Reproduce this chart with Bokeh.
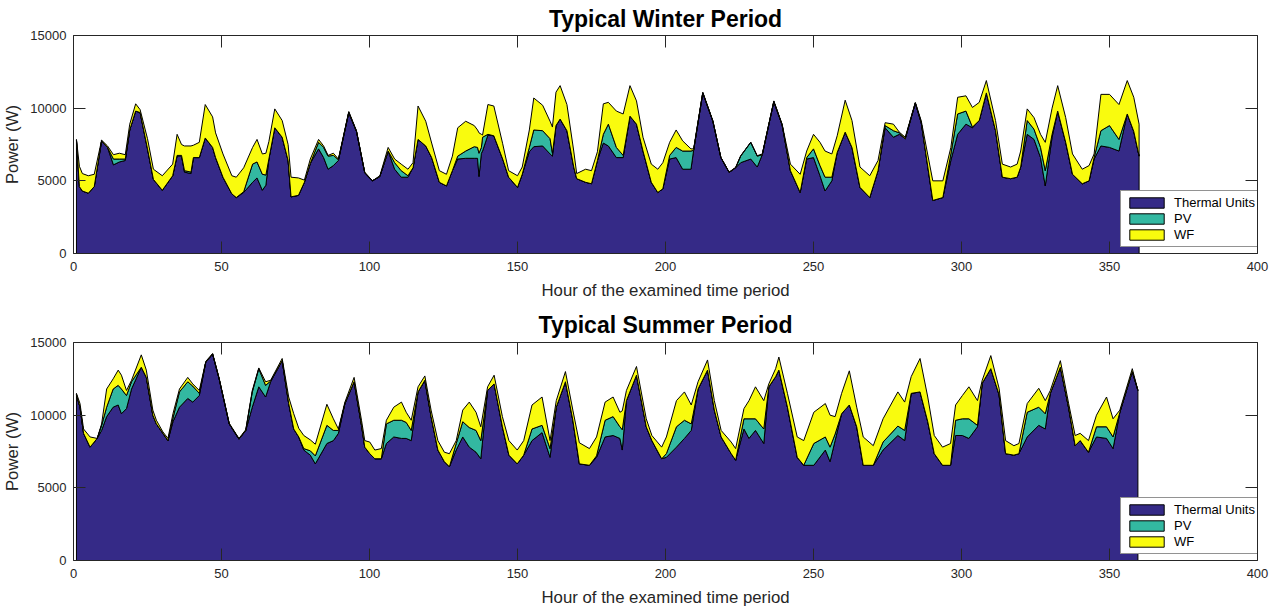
import numpy as np
from bokeh.plotting import figure
from bokeh.models import Range1d, FixedTicker, LinearAxis, Legend
from bokeh.layouts import column
from bokeh.embed import file_html
from bokeh.resources import INLINE

# ---------------- data ----------------
x_ticks = [0, 50, 100, 150, 200, 250, 300, 350, 400]
y_ticks = [0, 5000, 10000, 15000]
series_names = ["Thermal Units", "PV", "WF"]

w_hours = [1, 2, 3, 5, 7, 9.5, 11.5, 13.5, 15.5, 17.5, 19, 21, 22.5, 25, 27, 30, 33.5, 35, 36.5, 37.5,
           39.7, 40.5, 42.5, 44.5, 47, 48, 50.5, 53.5, 55, 57.5, 60.5, 62, 63.8, 65, 66, 68, 70.5, 72.5, 73.5, 76,
           78, 80, 82.8, 84.5, 86, 87.8, 89.5, 93, 95.6, 98.4, 101, 103.5, 106.3, 108.5, 110.7, 113, 114.7, 116.4, 119, 121,
           123.6, 126, 128, 129.8, 132.5, 135.4, 136.5, 137, 137.8, 138.2, 140, 142, 145, 147, 150, 151.6, 154, 155.5, 158.5, 161,
           161.8, 163, 164.4, 166.7, 169, 170, 173, 175, 177, 179, 180.7, 183.4, 185.7, 188, 190.2, 192.4, 195.2, 197.4, 199.1, 201.4,
           203.6, 205.8, 208.6, 209.5, 212.6, 216, 218.7, 221.5, 223.7, 225.4, 228.8, 231, 232.7, 236.6, 239.4, 242.2, 245.5, 247.7, 250, 252.2,
           253.9, 256.2, 258, 260.7, 263, 265.7, 269, 271.8, 274.2, 277, 279, 281, 284.4, 286.4, 290.3, 293.7, 296.4, 298.7, 301.5, 303.7,
           306, 308.4, 311.5, 313.8, 316.6, 318.8, 320, 322.2, 324.5, 326.7, 328.3, 330.6, 332.5, 335.2, 337.5, 340.8, 343.1, 344.8, 347.1, 350,
           353.2, 356, 358.2, 360]
w_thermal = [7800, 4600, 4300, 4150, 4600, 7750, 7300, 6100, 6300, 6400, 8500, 9800, 9700, 7200, 5100, 4350, 5350, 6700, 6700, 5600,
             5500, 6600, 6600, 7950, 7300, 6600, 5250, 4100, 3850, 4200, 4900, 5200, 4350, 4700, 6500, 8650, 8000, 6400, 3900, 4000,
             4900, 6200, 7200, 6600, 5800, 6050, 6400, 9700, 8400, 5550, 5000, 5300, 7050, 5800, 5250, 5250, 5900, 7850, 7400, 6600,
             4900, 4650, 5700, 6500, 6550, 6550, 6550, 5300, 6900, 7050, 8150, 8100, 6500, 5250, 4550, 5450, 7000, 7350, 7400, 6850,
             6700, 8800, 9250, 8450, 5950, 5150, 4900, 4800, 6400, 7600, 7400, 6600, 6600, 9450, 8900, 7050, 4900, 4200, 4450, 6500,
             6600, 5800, 5800, 7100, 11050, 9100, 6600, 5580, 5900, 6250, 6500, 5950, 6800, 10450, 8850, 5700, 4200, 6500, 6600, 5350,
             4300, 5000, 6950, 8350, 7300, 4550, 3850, 5700, 8650, 8000, 8200, 7900, 10350, 9000, 3650, 3850, 6400, 8200, 8900, 8650,
             9150, 11050, 8450, 5250, 5150, 5250, 5950, 8200, 7850, 6600, 4650, 8000, 9800, 7650, 5450, 4800, 5000, 6500, 7400, 7300,
             7050, 9600, 8400, 6700]
w_pv = [0, 0, 0, 0, 0, 0, 0, 400, 200, 100, 0, 0, 0, 0, 0, 0, 0, 50, 50, 100,
        100, 0, 0, 0, 0, 0, 0, 0, 0, 50, 1250, 1100, 1100, 700, 0, 0, 0, 0, 0, 0,
        0, 0, 450, 700, 900, 700, 50, 0, 0, 0, 0, 0, 0, 450, 450, 100, 0, 0, 0, 0,
        0, 0, 0, 200, 500, 800, 750, 1600, 400, 950, 50, 0, 0, 0, 0, 0, 300, 1150, 1050, 1050,
        200, 0, 0, 0, 0, 0, 0, 0, 0, 600, 1500, 700, 150, 0, 0, 0, 0, 0, 0, 250,
        700, 1250, 1250, 0, 0, 0, 0, 0, 0, 450, 1150, 750, 0, 0, 0, 0, 0, 100, 600, 700,
        950, 250, 0, 0, 0, 0, 0, 0, 150, 450, 100, 0, 0, 0, 0, 0, 450, 1400, 900, 50,
        0, 0, 0, 0, 0, 0, 0, 950, 700, 700, 1050, 200, 0, 0, 0, 0, 0, 100, 1050, 1500,
        800, 0, 0, 0]
w_wf = [50, 1400, 1200, 1200, 850, 50, 100, 300, 400, 300, 400, 500, 200, 700, 700, 1000, 800, 1450, 750, 1700,
        1800, 850, 1050, 2300, 2100, 1700, 1600, 1250, 1400, 1650, 1150, 1550, 1400, 1500, 1200, 1300, 1150, 1100, 1350, 1200,
        150, 300, 200, 100, 50, 150, 50, 70, 50, 50, 0, 50, 250, 250, 450, 450, 350, 2300, 1700, 1000,
        800, 800, 1000, 1950, 2050, 1450, 1200, 1400, 900, 150, 2050, 2050, 1050, 450, 800, 500, 1200, 2200, 1750, 1200,
        1800, 2300, 2300, 1800, 1100, 350, 900, 900, 600, 2100, 1500, 2500, 2850, 2100, 1600, 950, 1250, 1600, 1800, 900,
        1200, 700, 150, 100, 50, 30, 20, 20, 30, 30, 0, 30, 50, 50, 50, 450, 1250, 450, 1000, 1600,
        1800, 1600, 1150, 2200, 1850, 1400, 1500, 700, 200, 450, 50, 100, 50, 130, 1350, 1150, 450, 1150, 1050, 1350,
        1250, 850, 700, 900, 800, 900, 1100, 800, 800, 900, 1950, 1800, 1750, 1700, 1400, 1000, 1050, 250, 2500, 2150,
        2400, 2300, 2350, 2200]

s_hours = [1, 2.2, 3.4, 5.6, 8, 9.5, 11.2, 13.4, 15.1, 16.2, 17.9, 19.6, 22.9, 24.6, 26.8, 28, 30.2, 31.9, 33.6, 35.8,
           38.6, 40.3, 42.5, 44.7, 47, 49.2, 52.6, 54.8, 55.9, 58.2, 60.4, 62.6, 64.9, 66.6, 70.5, 72.7, 74.4, 76.1, 77.8, 80,
           81.7, 85.6, 87.8, 89.5, 91.7, 94.8, 97.3, 98.4, 100.1, 101.8, 104, 105.7, 108.2, 110.8, 112.4, 114.1, 116.4, 118.7, 120.8, 123.1,
           125.3, 127, 129.3, 131.5, 133.7, 136, 137.6, 139.9, 142.1, 144.9, 147.1, 149.9, 152.1, 154.9, 158.3, 161, 163.1, 166.2, 168.7, 170.9,
           174.3, 176.7, 179.6, 182.3, 184.6, 185.4, 186.8, 190.2, 193.5, 195.4, 198.7, 200.3, 203.7, 206.4, 208.7, 211, 214.2, 216.5, 218.8, 222.2,
           223.7, 226.5, 228.2, 230.4, 233.2, 234.9, 237.2, 238.3, 241.2, 244.5, 246.7, 250.1, 254, 255.6, 257.3, 259.5, 262.1, 264.6, 266.8, 270.2,
           273.5, 278.5, 280.8, 283, 286, 288.6, 290.8, 293.6, 296.3, 298, 300.3, 302.5, 305.4, 307, 309.9, 312.7, 314.9, 317.7, 319.4, 322.2,
           326.1, 328.3, 330, 333.4, 336.2, 338.4, 340.1, 342.9, 345.6, 349, 351.2, 353.5, 357.7, 359.6]
s_thermal = [11400, 10550, 8750, 7800, 8400, 8950, 9900, 10550, 10700, 10100, 10450, 11800, 13300, 12600, 10000, 9400, 8750, 8250, 9550, 10550,
             11150, 10900, 11350, 13650, 14200, 12500, 9400, 8700, 8350, 8950, 10550, 11950, 11250, 12300, 13750, 10800, 9050, 8500, 7600, 7250,
             6650, 8050, 8250, 8750, 10800, 12300, 9300, 7800, 7350, 7000, 7000, 8050, 8500, 8400, 8400, 8250, 11600, 12400, 9900, 7600,
             6800, 6450, 7600, 8500, 7800, 7450, 7000, 11700, 12150, 9200, 7250, 6650, 7250, 8250, 8800, 7100, 10550, 12300, 9650, 6650,
             6550, 7100, 8500, 8600, 8400, 7600, 11000, 12750, 9200, 8250, 7000, 7100, 7800, 8400, 8950, 11800, 13100, 10350, 8500, 7350,
             6900, 9050, 8400, 8950, 8050, 11950, 12650, 13100, 10550, 7100, 6550, 6550, 7600, 6800, 8250, 10100, 10700, 9200, 6550, 6550,
             7600, 8600, 8250, 11500, 11600, 9550, 7350, 6550, 6550, 8600, 8600, 8400, 9200, 12200, 13200, 11400, 7350, 7250, 7350, 8500,
             9300, 9050, 11500, 13300, 10500, 7900, 8250, 7450, 8500, 8400, 7700, 10200, 13000, 11700]
s_pv = [0, 0, 0, 0, 0, 350, 650, 1250, 1350, 1700, 900, 500, 0, 0, 0, 0, 0, 0, 250, 1050,
        1150, 1100, 150, 0, 0, 0, 0, 0, 0, 0, 1050, 1250, 800, 50, 0, 0, 0, 0, 100, 300,
        550, 1250, 700, 200, 0, 0, 0, 0, 0, 0, 0, 1350, 1150, 1250, 1100, 700, 0, 0, 0, 0,
        0, 0, 450, 1050, 1350, 1500, 1250, 0, 0, 0, 0, 0, 0, 800, 500, 600, 0, 0, 0, 0,
        0, 100, 1150, 1300, 800, 1400, 0, 0, 0, 0, 0, 250, 1400, 1250, 450, 0, 0, 0, 0, 0,
        0, 700, 1350, 800, 1000, 0, 0, 0, 0, 0, 0, 1500, 900, 1000, 450, 0, 0, 0, 0, 0,
        550, 650, 700, 0, 0, 0, 0, 0, 0, 1050, 1150, 1350, 100, 0, 0, 0, 0, 0, 0, 1700,
        1250, 1050, 0, 0, 0, 0, 0, 0, 700, 800, 800, 0, 0, 0]
s_wf = [100, 250, 300, 700, 0, 100, 1250, 700, 1050, 950, 350, 100, 850, 500, 350, 250, 100, 150, 300, 200,
        300, 150, 200, 50, 50, 50, 50, 50, 50, 50, 100, 50, 250, 50, 150, 450, 1050, 600, 900, 750,
        800, 1450, 800, 100, 100, 300, 350, 450, 800, 600, 700, 250, 900, 1250, 700, 700, 350, 300, 450, 650,
        650, 900, 200, 800, 1750, 1250, 950, 250, 600, 700, 1000, 950, 1000, 1650, 1950, 550, 450, 700, 700, 1450,
        1150, 1300, 1250, 1350, 1000, 1300, 700, 600, 550, 350, 800, 1150, 1800, 1950, 1300, 500, 700, 650, 450, 800,
        800, 700, 1250, 2200, 1950, 200, 550, 900, 950, 1400, 1700, 2150, 2300, 2200, 1200, 1400, 2350, 1350, 1950, 1350,
        1600, 2350, 1950, 1150, 2300, 1700, 1250, 1250, 1500, 1050, 1600, 2200, 1700, 200, 900, 450, 900, 650, 700, 600,
        1300, 900, 200, 450, 300, 700, 500, 800, 800, 2050, 1250, 150, 200, 0]

# ---------------- styling ----------------
FONT = "Liberation Sans"
AX = "#262626"
COLORS = ["#352a87", "#33b8a1", "#f9fb0e"]


def make_panel(title, hours, thermal, pv, wf, top, bottom, title_standoff):
    assert len(hours) == len(thermal) == len(pv) == len(wf), (title, len(hours), len(thermal), len(pv), len(wf))
    p = figure(width=1279, height=top + 218 + bottom, output_backend="svg", toolbar_location=None,
               x_range=Range1d(0, 400), y_range=Range1d(0, 15000),
               min_border_left=73, min_border_right=22, min_border_top=top, min_border_bottom=bottom)
    p.background_fill_color = "white"
    p.border_fill_color = "white"
    p.outline_line_color = None
    p.xgrid.visible = False
    p.ygrid.visible = False

    p.title.text = title
    p.title.align = "center"
    p.title.text_font = FONT
    p.title.text_font_size = "23px"
    p.title.text_font_style = "bold"
    p.title.text_color = "black"
    p.title.standoff = title_standoff

    h = np.array(hours, dtype=float)
    l1 = np.array(thermal, dtype=float)
    l2 = l1 + np.array(pv, dtype=float)
    l3 = l2 + np.array(wf, dtype=float)
    xs = np.concatenate([h, h[::-1]])
    bases = [np.zeros_like(l1), l1, l2]
    tops = [l1, l2, l3]
    rends = []
    for base, topl, col in zip(bases, tops, COLORS):
        r = p.patch(xs, np.concatenate([topl, base[::-1]]), fill_color=col, line_color="black",
                    line_width=1, line_join="round")
        rends.append(r)

    for ax in (p.xaxis[0], p.yaxis[0]):
        ax.major_tick_in = 12
        ax.major_tick_out = 0
        ax.minor_tick_line_color = None
        ax.axis_line_color = AX
        ax.major_tick_line_color = AX
        ax.major_label_text_font = FONT
        ax.major_label_text_font_size = "13px"
        ax.major_label_text_color = AX
        ax.axis_label_text_font = FONT
        ax.axis_label_text_font_size = "16.8px"
        ax.axis_label_text_font_style = "normal"
        ax.axis_label_text_color = AX
    p.xaxis.ticker = FixedTicker(ticks=x_ticks)
    p.yaxis.ticker = FixedTicker(ticks=y_ticks)
    p.xaxis.axis_label = "Hour of the examined time period"
    p.yaxis.axis_label = "Power (W)"
    p.xaxis.major_label_standoff = 8
    p.xaxis.axis_label_standoff = 7
    p.yaxis.major_label_standoff = 7
    p.yaxis.axis_label_standoff = 5

    # mirrored box axes (ticks only, no labels)
    for loc, ticks in (("above", x_ticks), ("right", y_ticks)):
        ax = LinearAxis(ticker=FixedTicker(ticks=ticks), major_label_text_font_size="0px",
                        major_label_text_color=None, major_label_standoff=0,
                        major_tick_in=12, major_tick_out=0,
                        minor_tick_line_color=None, axis_line_color=AX, major_tick_line_color=AX)
        p.add_layout(ax, loc)

    legend = Legend(items=[(n, [r]) for n, r in zip(series_names, rends)],
                    location=(1047, 6), orientation="vertical")
    legend.label_text_font = FONT
    legend.label_text_font_size = "13px"
    legend.label_text_color = "black"
    legend.glyph_width = 43
    legend.glyph_height = 13
    legend.label_height = 13
    legend.label_standoff = 6
    legend.padding = 4
    legend.spacing = 1
    legend.margin = 0
    legend.border_line_color = AX
    legend.border_line_width = 1
    legend.background_fill_color = "white"
    legend.background_fill_alpha = 1
    p.add_layout(legend)
    return p


p1 = make_panel("Typical Winter Period", w_hours, w_thermal, w_pv, w_wf, 35, 52, 7)
p2 = make_panel("Typical Summer Period", s_hours, s_thermal, s_pv, s_wf, 37, 50, 9)
layout = column(p1, p2, spacing=0)
open("out.html", "w").write(file_html(layout, INLINE))
